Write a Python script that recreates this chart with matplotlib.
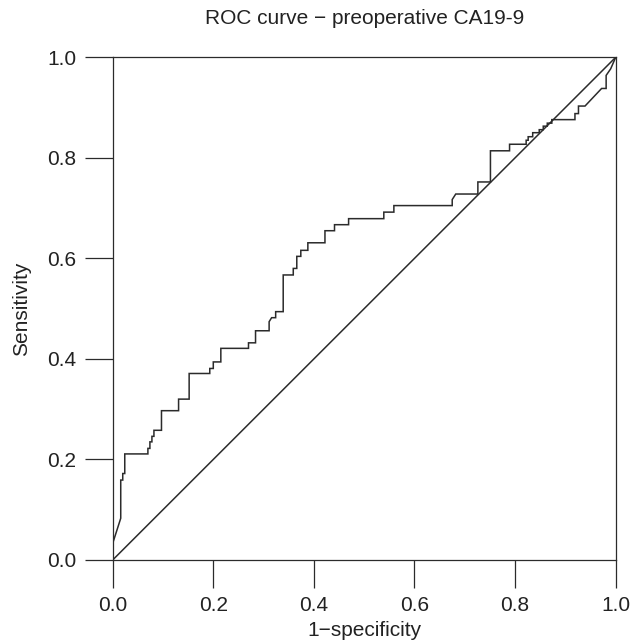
import matplotlib
matplotlib.use("Agg")
import matplotlib.pyplot as plt

plt.rcParams["font.family"] = ["Liberation Sans", "DejaVu Sans"]

# ROC operating points for preoperative CA19-9
fpr = [0.000, 0.000, 0.016, 0.016, 0.020, 0.020, 0.024, 0.024, 0.070, 0.070,
       0.074, 0.074, 0.078, 0.078, 0.082, 0.082, 0.097, 0.097, 0.131, 0.131,
       0.152, 0.152, 0.193, 0.193, 0.200, 0.200, 0.215, 0.215, 0.270, 0.270,
       0.284, 0.284, 0.311, 0.311, 0.316, 0.324, 0.324, 0.339, 0.339, 0.359,
       0.359, 0.366, 0.366, 0.374, 0.374, 0.388, 0.388, 0.422, 0.422, 0.441,
       0.441, 0.469, 0.469, 0.539, 0.539, 0.559, 0.559, 0.675, 0.675, 0.682,
       0.726, 0.726, 0.751, 0.751, 0.789, 0.789, 0.822, 0.822, 0.826, 0.826,
       0.835, 0.835, 0.848, 0.848, 0.856, 0.856, 0.864, 0.864, 0.873, 0.873,
       0.919, 0.919, 0.926, 0.926, 0.939, 0.972, 0.981, 0.981, 0.990, 1.000]
tpr = [0.000, 0.033, 0.083, 0.159, 0.159, 0.172, 0.172, 0.211, 0.211, 0.222,
       0.222, 0.235, 0.235, 0.246, 0.246, 0.258, 0.258, 0.297, 0.297, 0.320,
       0.320, 0.371, 0.371, 0.381, 0.381, 0.394, 0.394, 0.421, 0.421, 0.432,
       0.432, 0.456, 0.456, 0.474, 0.482, 0.482, 0.494, 0.494, 0.567, 0.567,
       0.580, 0.580, 0.604, 0.604, 0.616, 0.616, 0.631, 0.631, 0.655, 0.655,
       0.667, 0.667, 0.679, 0.679, 0.692, 0.692, 0.705, 0.705, 0.717, 0.728,
       0.728, 0.752, 0.752, 0.814, 0.814, 0.827, 0.827, 0.835, 0.835, 0.842,
       0.842, 0.850, 0.850, 0.856, 0.856, 0.863, 0.863, 0.869, 0.869, 0.876,
       0.876, 0.888, 0.888, 0.903, 0.903, 0.938, 0.938, 0.964, 0.977, 1.000]

ref_line = [0.0, 1.0]
ticks = [0.0, 0.2, 0.4, 0.6, 0.8, 1.0]
tick_labels = ["0.0", "0.2", "0.4", "0.6", "0.8", "1.0"]

LINE = "#2b2b2b"
FS = 15

fig = plt.figure(figsize=(6.32, 6.43), dpi=100)
ax = fig.add_axes([0.1783, 0.1291, 0.7959, 0.7818])

ax.plot(fpr, tpr, color=LINE, linewidth=1.1, solid_joinstyle="miter")
ax.plot(ref_line, ref_line, color=LINE, linewidth=1.1)

ax.set_xlim(0, 1)
ax.set_ylim(0, 1)
ax.set_xticks(ticks)
ax.set_yticks(ticks)
ax.set_xticklabels(tick_labels)
ax.set_yticklabels(tick_labels)
ax.tick_params(direction="out", length=20, width=0.9, color=LINE,
               labelsize=FS, labelcolor="#222222", pad=6)
for sp in ax.spines.values():
    sp.set_color(LINE)
    sp.set_linewidth(0.9)

ax.set_xlabel("1\u2212specificity", fontsize=FS, color="#222222", labelpad=4)
ax.set_ylabel("Sensitivity", fontsize=FS, color="#222222", labelpad=12)
ax.set_title("ROC curve \u2212 preoperative CA19-9", fontsize=FS,
             color="#222222", pad=24)

fig.savefig("out.png", dpi=100)
